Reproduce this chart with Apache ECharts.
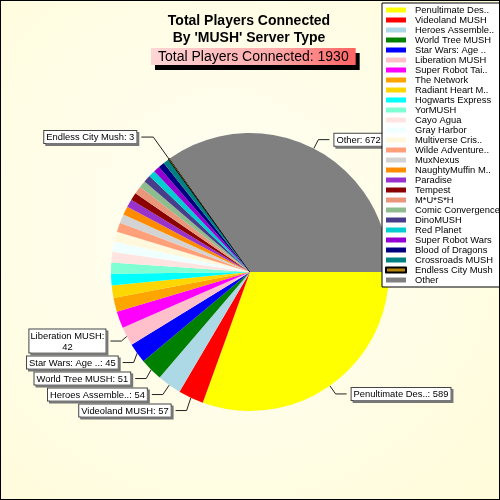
<!DOCTYPE html>
<html lang="en">
<head>
    <meta charset="UTF-8">
    <title>MUSH players</title>
    <script src="https://cdn.jsdelivr.net/npm/echarts@6/dist/echarts.min.js"></script>
    <style>
        html, body { margin: 0; padding: 0; }
        #pie_wrap { width: 500px; height: 500px; box-sizing: border-box; border: 1px solid #000; }
    </style>
</head>
<body>

<div id="pie_wrap"></div>

<script>
    // server names (as shown, already shortened) and players connected
    var servers = [
        "Penultimate Des..", "Videoland MUSH", "Heroes Assemble..", "World Tree MUSH",
        "Star Wars: Age ..", "Liberation MUSH", "Super Robot Tai..", "The Network",
        "Radiant Heart M..", "Hogwarts Express", "YorMUSH", "Cayo Agua",
        "Gray Harbor", "Multiverse Cris..", "Wilde Adventure..", "MuxNexus",
        "NaughtyMuffin M..", "Paradise", "Tempest", "M*U*S*H",
        "Comic Convergence", "DinoMUSH", "Red Planet", "Super Robot Wars",
        "Blood of Dragons", "Crossroads MUSH", "Endless City Mush", "Other"
    ];
    var players = [
        589, 57, 54, 51,
        45, 42, 38, 31,
        28, 26, 25, 24,
        23, 22, 21, 20,
        19, 18, 17, 17,
        16, 16, 15, 14,
        14, 13, 3, 672
    ];
    var total_players = 1930;

    // only these slices carry a callout
    var labelled = ["Penultimate Des..", "Videoland MUSH", "Heroes Assemble..", "World Tree MUSH",
        "Star Wars: Age ..", "Liberation MUSH", "Endless City Mush", "Other"];
    var wrapped = ["Liberation MUSH"];

    var color_arr = [
        "#ffff00", "#ff0000", "#add8e6", "#008000", "#0000ff", "#ffc0cb", "#ff00ff", "#ffa500",
        "#ffd700", "#00ffff", "#7fffd4", "#ffe4e1", "#f0ffff", "#fff8dc", "#ffa07a", "#d3d3d3",
        "#ff8c00", "#9932cc", "#8b0000", "#e9967a", "#8fbc8f", "#483d8b", "#00ced1", "#9400d3",
        "#000080", "#008080", "#b8860b", "#808080"
    ];

    var pie_obj = document.getElementById("pie_wrap");
    var myPie = echarts.init(pie_obj);

    var pie_data = [];
    for (var i = 0; i < servers.length; i++) {
        var has_label = labelled.indexOf(servers[i]) >= 0;
        var one = {
            name: servers[i],
            value: players[i],
            itemStyle: { color: color_arr[i] },
            label: { show: has_label },
            labelLine: { show: has_label }
        };
        if (servers[i] === "Endless City Mush") {
            // tiny slice: outlined, and its callout is pushed further out
            one.itemStyle.borderColor = "#000";
            one.itemStyle.borderWidth = 1;
            one.labelLine.length = 27;
            one.labelLine.length2 = 12;
        }
        pie_data.push(one);
    }

    var font = "'Liberation Sans', Arial, sans-serif";

    var option = {
        backgroundColor: {
            type: 'radial', x: 0.45, y: 0.45, r: 0.8,
            colorStops: [{ offset: 0, color: '#fffff4' }, { offset: 1, color: '#fffbd9' }]
        },
        animation: false,
        title: [{
            text: "Total Players Connected\nBy 'MUSH' Server Type",
            left: 243,
            textAlign: 'center',
            top: 7,
            textStyle: { fontFamily: font, fontSize: 14, fontWeight: 'bold', color: '#000', lineHeight: 17 }
        }, {
            text: 'Total Players Connected: ' + total_players,
            left: 150,
            top: 47,
            padding: [2, 7, 1, 7],
            backgroundColor: new echarts.graphic.LinearGradient(0, 0, 1, 0, [
                { offset: 0, color: '#ffd6d6' },
                { offset: 0.6, color: '#ffaaaa' },
                { offset: 1, color: '#ff6262' }
            ]),
            shadowColor: '#000',
            shadowBlur: 0,
            shadowOffsetX: 4,
            shadowOffsetY: 5,
            textStyle: { fontFamily: font, fontSize: 14, fontWeight: 'normal', color: '#000' }
        }],
        legend: {
            orient: 'vertical',
            left: 381,
            top: 2,
            padding: [2, 3, 2, 3],
            backgroundColor: '#fff',
            borderColor: '#000',
            borderWidth: 1,
            icon: 'rect',
            itemWidth: 20,
            itemHeight: 5,
            itemGap: 0,
            data: servers,
            textStyle: { fontFamily: font, fontSize: 9.4, color: '#000', lineHeight: 10, padding: [0, 0, 0, 4] }
        },
        series: [{
            name: 'Players',
            type: 'pie',
            center: [249, 271],
            radius: 139,
            startAngle: 0,
            clockwise: true,
            avoidLabelOverlap: true,
            data: pie_data,
            label: {
                position: 'outside',
                fontFamily: font,
                fontSize: 9.4,
                color: '#000',
                backgroundColor: '#fff',
                borderColor: '#444',
                borderWidth: 1,
                padding: [1, 2, 0, 2],
                shadowColor: '#777',
                shadowOffsetX: 2,
                shadowOffsetY: 2,
                lineHeight: 11,
                formatter: function (p) {
                    if (wrapped.indexOf(p.name) >= 0) {
                        return '{w|' + p.name + ':}\n{w|' + p.value + '}';
                    }
                    return p.name + ': ' + p.value;
                },
                rich: {
                    w: { fontFamily: font, fontSize: 9.4, color: '#000', lineHeight: 11, width: 72, align: 'center' }
                }
            },
            labelLine: {
                length: 10,
                length2: 11,
                lineStyle: { color: '#222', width: 1 }
            },
            emphasis: { disabled: true }
        }]
    };

    myPie.setOption(option);
</script>
</body>
</html>
